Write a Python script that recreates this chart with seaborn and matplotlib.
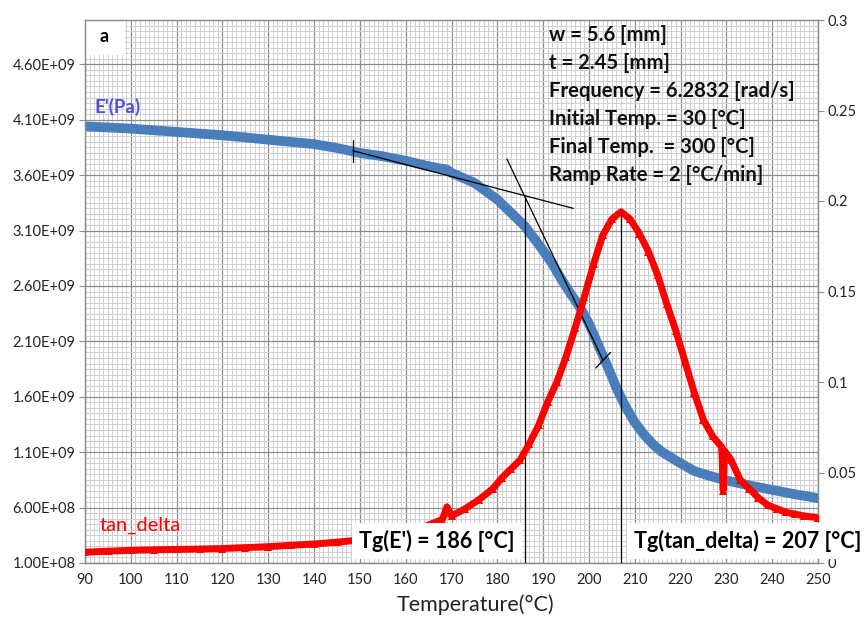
import matplotlib
matplotlib.use("Agg")
import matplotlib.pyplot as plt
import matplotlib.patches as mpatches
from matplotlib.ticker import MultipleLocator, FuncFormatter
import seaborn as sns
import pandas as pd

# ---------------- data ----------------
T_E = [90, 95, 100, 105, 110, 115, 120, 125, 130, 135, 140, 145, 150, 155, 160, 165,
       169, 170, 175, 178, 180, 183, 186, 188, 190, 192, 194, 196, 198, 200, 202, 204,
       206, 208, 210, 212, 214, 216, 218, 220, 223, 226, 230, 235, 240, 245, 250]
E_prime = [4.04e9, 4.03e9, 4.02e9, 4.005e9, 3.99e9, 3.975e9, 3.96e9, 3.94e9, 3.92e9,
           3.90e9, 3.88e9, 3.845e9, 3.80e9, 3.77e9, 3.73e9, 3.68e9,
           3.65e9, 3.62e9, 3.53e9, 3.44e9, 3.38e9, 3.26e9, 3.14e9, 3.03e9, 2.92e9,
           2.80e9, 2.66e9, 2.53e9, 2.41e9, 2.26e9, 2.07e9, 1.88e9,
           1.68e9, 1.51e9, 1.37e9, 1.26e9, 1.17e9, 1.10e9, 1.05e9, 1.00e9, 0.93e9,
           0.89e9, 0.845e9, 0.80e9, 0.76e9, 0.72e9, 0.685e9]

T_tan = [90, 95, 100, 105, 110, 115, 120, 125, 130, 135, 140, 145, 150, 155, 160, 165,
         168, 169, 170, 173, 176, 179, 181, 183, 185, 187, 189, 191, 193, 195, 197, 199,
         201, 203, 205, 207, 209, 211, 213, 215, 217, 219, 221, 223, 225, 227, 229, 229.3,
         229.6, 231, 233, 235, 237, 239, 241, 243, 245, 247, 250]
tan_delta = [0.006, 0.0065, 0.007, 0.0073, 0.0075, 0.0077, 0.008, 0.0085, 0.009, 0.0098,
             0.0105, 0.0115, 0.0127, 0.014, 0.016, 0.021,
             0.024, 0.031, 0.026, 0.030, 0.035, 0.041, 0.047, 0.052, 0.057, 0.066,
             0.076, 0.089, 0.100, 0.114, 0.130, 0.147,
             0.165, 0.181, 0.190, 0.194, 0.190, 0.182, 0.172, 0.159, 0.143, 0.128,
             0.111, 0.094, 0.079, 0.070, 0.064, 0.040,
             0.062, 0.057, 0.046, 0.041, 0.036, 0.032, 0.030, 0.028, 0.027, 0.026, 0.025]

# tangent construction (onset method)
tan1_T = [148.5, 196.6]
tan1_E = [3.82e9, 3.30e9]
tan2_T = [182.1, 203.1]
tan2_E = [3.745e9, 1.927e9]
Tg_E = 186
Tg_E_top = 3.41e9
Tg_tan = 207
Tg_tan_top = 0.194

left_ticks = [1.0e8 + 5.0e8 * i for i in range(10)]
right_ticks = [0, 0.05, 0.1, 0.15, 0.2, 0.25, 0.3]
x_ticks = list(range(90, 251, 10))

params_text = ["w = 5.6 [mm]", "t = 2.45 [mm]", "Frequency = 6.2832 [rad/s]",
               "Initial Temp. = 30 [°C]", "Final Temp.  = 300 [°C]",
               "Ramp Rate = 2 [°C/min]"]

# ---------------- figure ----------------
sns.set_style("white")
plt.rcParams['font.family'] = ['Lato', 'DejaVu Sans']

W, H = 865, 618
fig = plt.figure(figsize=(W / 100, H / 100), dpi=100)
L, R, B, Tp = 85, 818, 563, 20
ax = fig.add_axes([L / W, 1 - B / H, (R - L) / W, (B - Tp) / H])
ax2 = ax.twinx()

blue = "#4A7EBB"
red = "#FF0000"

dfE = pd.DataFrame({"T": T_E, "E": E_prime})
dft = pd.DataFrame({"T": T_tan, "tan": tan_delta})

sns.lineplot(data=dfE, x="T", y="E", ax=ax, color=blue, linewidth=7,
             marker="D", markersize=5, markeredgewidth=0, zorder=3)
sns.lineplot(data=dft, x="T", y="tan", ax=ax2, color=red, linewidth=5,
             marker="^", markersize=6, markeredgewidth=0, zorder=3)

ax.set_xlim(90, 250)
ax.set_ylim(1.0e8, 5.0e9)
ax2.set_ylim(0, 0.3)

# grid
ax.set_axisbelow(True)
ax.xaxis.set_major_locator(MultipleLocator(10))
ax.xaxis.set_minor_locator(MultipleLocator(1))
ax.set_yticks(left_ticks)
ax.yaxis.set_minor_locator(MultipleLocator(5.0e7))
ax.grid(which="major", color="#8C8C8C", linewidth=0.9)
ax.grid(which="minor", color="#D0D0D0", linewidth=0.7)
ax.tick_params(axis="both", which="minor", length=0)
ax.tick_params(axis="both", which="major", length=4, color="#8C8C8C",
               labelsize=10.5, labelcolor="#222222", pad=3)
ax.yaxis.set_major_formatter(FuncFormatter(lambda v, p: f"{v:.2E}"))
ax.set_xticks(x_ticks)

ax2.set_yticks(right_ticks)
ax2.yaxis.set_major_formatter(FuncFormatter(lambda v, p: f"{v:g}"))
ax2.tick_params(axis="y", which="major", length=4, color="#8C8C8C",
                labelsize=10.5, labelcolor="#222222", pad=3)
ax2.grid(False)

for a in (ax, ax2):
    for s in a.spines.values():
        s.set_color("#8C8C8C")
        s.set_linewidth(0.9)

ax.set_xlabel("Temperature(°C)", fontsize=15.5, color="#222222")
ax.xaxis.set_label_coords((475 - L) / (R - L), -(605 - B) / (B - Tp))
ax.xaxis.label.set_va("center")
ax.set_ylabel("")
ax2.set_ylabel("")

# tangent lines and Tg construction
ax.plot(tan1_T, tan1_E, color="black", linewidth=0.9, zorder=4)
ax.plot(tan2_T, tan2_E, color="black", linewidth=0.9, zorder=4)
ax.vlines(Tg_E, 1.0e8, Tg_E_top, color="black", linewidth=0.9, zorder=4)
ax2.vlines(Tg_tan, 0, Tg_tan_top, color="black", linewidth=0.9, zorder=5)
# small end ticks on tangent lines
ax.plot([148.5, 148.5], [3.72e9, 3.92e9], color="black", linewidth=0.9, zorder=4)
ax.plot([201.5, 204.7], [1.86e9, 2.0e9], color="black", linewidth=0.9, zorder=4)

# white box behind "a"
ax.add_patch(mpatches.Rectangle((0, 0.935), 0.055, 0.065, transform=ax.transAxes,
                                facecolor="white", edgecolor="none", zorder=1))
ax2.text(0.02, 0.97, "a", transform=ax2.transAxes, fontsize=13, fontweight="bold",
         va="center", ha="left", color="black", zorder=6)

# series labels
ax2.text(0.013, 0.84, "E'(Pa)", transform=ax2.transAxes, fontsize=13.5,
         fontweight="bold", color="#5050D8", va="center", ha="left", zorder=6)
ax2.text(0.020, 0.07, "tan_delta", transform=ax2.transAxes, fontsize=14.5,
         color=red, va="center", ha="left", zorder=6)

# parameter text block
y0 = 35
for i, s in enumerate(params_text):
    fig.text(549 / W, 1 - (y0 + 28 * i) / H, s, fontsize=14.6, fontweight="bold",
             va="center", ha="left", color="#111111", zorder=10)

# Tg boxes
fig.text(437 / W, 1 - 541 / H, "Tg(E') = 186 [°C]", fontsize=15.5, fontweight="bold",
         ha="center", va="center", color="black", zorder=10,
         bbox=dict(facecolor="white", edgecolor="none", pad=5))
fig.text(634 / W, 1 - 541 / H, "Tg(tan_delta) = 207 [°C]", fontsize=15.5,
         fontweight="bold", ha="left", va="center", color="black", zorder=10,
         bbox=dict(facecolor="white", edgecolor="none", pad=5))

fig.savefig("out.png", dpi=100, facecolor="white")
